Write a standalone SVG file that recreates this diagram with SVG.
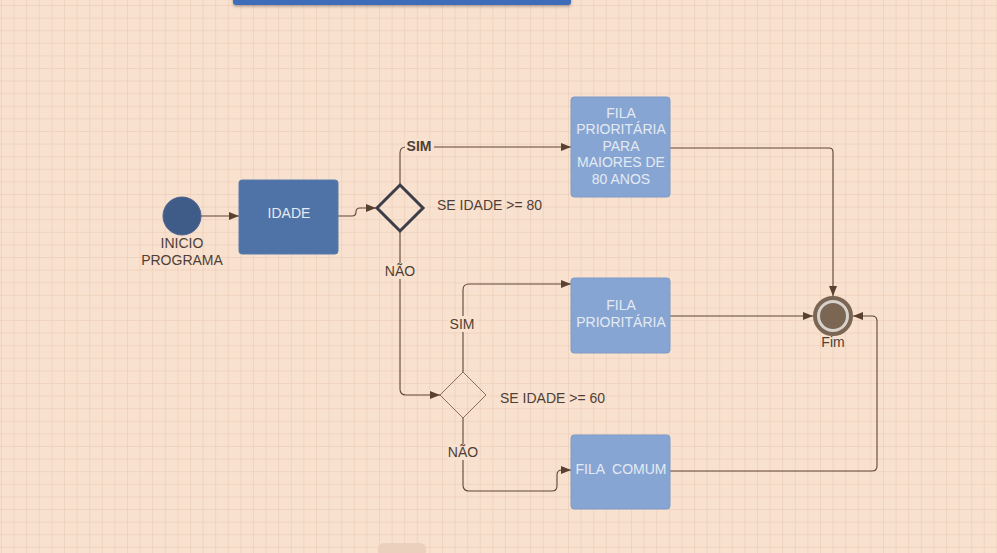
<svg xmlns="http://www.w3.org/2000/svg" width="997" height="553" viewBox="0 0 997 553">
<defs>
<pattern id="grid" width="12.6" height="12.6" patternUnits="userSpaceOnUse" x="1" y="5">
<path d="M0 0H12.6M0 0V12.6" fill="none" stroke="#e7c7b2" stroke-width="1"/>
</pattern>
<marker id="arr" viewBox="0 0 10 10" refX="10" refY="5" markerWidth="10" markerHeight="10" markerUnits="userSpaceOnUse" orient="auto">
<path d="M0 1L10 5L0 9Z" fill="#5a4030"/>
</marker>
<filter id="sh" x="-10%" y="-50%" width="120%" height="200%">
<feDropShadow dx="0" dy="1.5" stdDeviation="1.5" flood-color="#000" flood-opacity="0.3"/>
</filter>
</defs>
<style>
.lbl{font-family:"Liberation Sans",Arial,sans-serif;font-size:14px;fill:#4e3f36;text-anchor:middle}
.lt{font-family:"Liberation Sans",Arial,sans-serif;font-size:14px;fill:#4e3f36}
.wt{font-family:"Liberation Sans",Arial,sans-serif;font-size:14px;fill:#e4eaf4;text-anchor:middle}
.box{fill:#87a5d2;stroke:#7e9bc8;stroke-width:1}
.con{fill:none;stroke:#5e4536;stroke-width:1.1}
</style>
<rect width="997" height="553" fill="#f9e1cf"/>
<rect width="997" height="553" fill="url(#grid)"/>
<rect x="233" y="-10" width="338" height="15" rx="3" fill="#3d6cb8" filter="url(#sh)"/>
<rect x="378" y="543" width="48" height="14" rx="6" fill="#ead0bd"/>
<g id="connectors">
<path class="con" d="M201 216H239" marker-end="url(#arr)"/>
<path class="con" d="M338 216H352Q356 216 356 212Q356 208 360 208H376" marker-end="url(#arr)"/>
<path class="con" d="M400 184V153Q400 147 406 147H571" marker-end="url(#arr)"/>
<path class="con" d="M670 148H829Q833 148 833 152V296" marker-end="url(#arr)"/>
<path class="con" d="M400 231V389Q400 395 406 395H440" marker-end="url(#arr)"/>
<path class="con" d="M463 372V290Q463 284 469 284H571" marker-end="url(#arr)"/>
<path class="con" d="M670 316H813" marker-end="url(#arr)"/>
<path class="con" d="M463 418V485Q463 491 469 491H552Q557 491 557 486V475Q557 470 562 470H571" marker-end="url(#arr)"/>
<path class="con" d="M670 471H872Q877 471 877 466V321Q877 316 872 316H853" marker-end="url(#arr)"/>
<rect x="405" y="139" width="29" height="16" fill="#f9e1cf"/>
<text class="lbl" x="419" y="151" font-weight="bold">SIM</text>
<rect x="384" y="263" width="32" height="16" fill="#f9e1cf"/>
<text class="lbl" x="400" y="276">NÃO</text>
<rect x="448" y="316" width="30" height="16" fill="#f9e1cf"/>
<text class="lbl" x="462" y="329">SIM</text>
<rect x="447" y="444" width="32" height="16" fill="#f9e1cf"/>
<text class="lbl" x="463" y="457">NÃO</text>
</g>
<g id="inicio">
<circle cx="182" cy="216" r="19" fill="#3f5b87" stroke="#4a6390" stroke-width="1"/>
<text class="lbl" x="182" y="248">INICIO</text>
<text class="lbl" x="182" y="265">PROGRAMA</text>
</g>
<g id="idade">
<rect x="239" y="180" width="99" height="74" rx="3" fill="#4f73a6" stroke="#5a7cad"/>
<text class="wt" x="289" y="218">IDADE</text>
</g>
<g id="decisao80">
<path d="M400 185L423 208L400 231L377 208Z" fill="none" stroke="#3b3d47" stroke-width="3"/>
<text class="lt" x="437" y="210">SE IDADE &gt;= 80</text>
</g>
<g id="fila80">
<rect class="box" x="571" y="97" width="99" height="100" rx="3"/>
<text class="wt" x="621" y="118">FILA</text>
<text class="wt" x="621" y="134">PRIORITÁRIA</text>
<text class="wt" x="621" y="151">PARA</text>
<text class="wt" x="621" y="167">MAIORES DE</text>
<text class="wt" x="621" y="184">80 ANOS</text>
</g>
<g id="decisao60">
<path d="M463 372L486 395L463 418L440 395Z" fill="none" stroke="#8a6e5c" stroke-width="1"/>
<text class="lt" x="500" y="403">SE IDADE &gt;= 60</text>
</g>
<g id="filaprio">
<rect class="box" x="571" y="278" width="99" height="75" rx="3"/>
<text class="wt" x="621" y="310">FILA</text>
<text class="wt" x="621" y="327">PRIORITÁRIA</text>
</g>
<g id="filacomum">
<rect class="box" x="571" y="435" width="99" height="74" rx="3"/>
<text class="wt" x="621" y="474" xml:space="preserve">FILA  COMUM</text>
</g>
<g id="fim">
<circle cx="833" cy="316" r="18" fill="#d8d2cc" stroke="#7b6653" stroke-width="4"/>
<circle cx="833" cy="316" r="13" fill="#7b6653"/>
<text class="lbl" x="833" y="347">Fim</text>
</g>
</svg>
